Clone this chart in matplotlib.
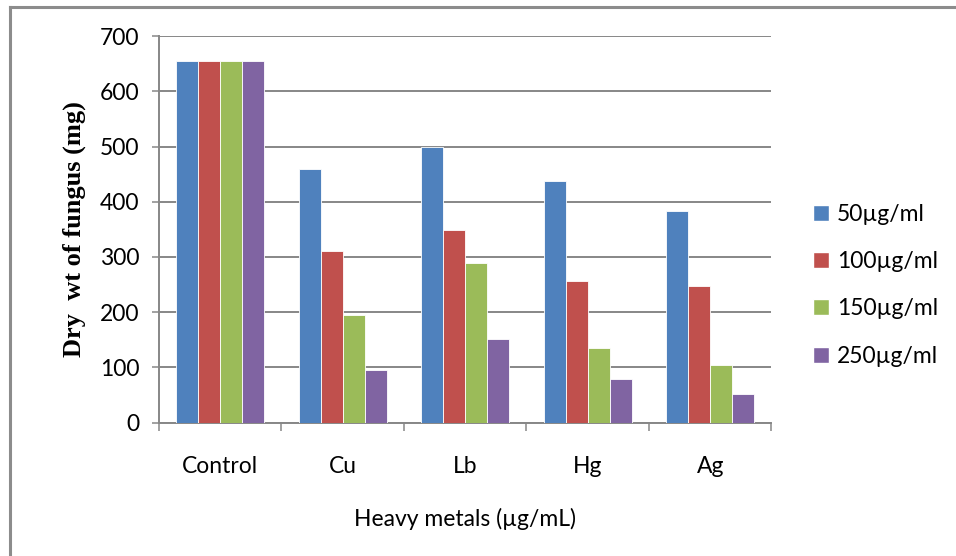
import matplotlib
matplotlib.use("Agg")
import matplotlib.pyplot as plt
import numpy as np
from matplotlib.lines import Line2D
from matplotlib.patches import Patch

# ---------------------------
# Data
# ---------------------------
metals = ["Control", "Cu", "Lb", "Hg", "Ag"]
doses = ["50µg/ml", "100µg/ml", "150µg/ml", "250µg/ml"]
dose_50 = [654, 459, 499, 437, 384]
dose_100 = [654, 311, 349, 256, 248]
dose_150 = [654, 195, 290, 136, 105]
dose_250 = [654, 96, 152, 80, 52]
colors = ["#4F81BD", "#C0504D", "#9BBB59", "#8064A2"]
y_ticks = [0, 100, 200, 300, 400, 500, 600, 700]

series = [dose_50, dose_100, dose_150, dose_250]

sans = ["Lato", "Open Sans", "DejaVu Sans"]
grid_grey = "#878787"

fig = plt.figure(figsize=(9.56, 5.56), dpi=100)
ax = fig.add_axes([0.1663, 0.2397, 0.6407, 0.6955])

# ---------------------------
# Bars
# ---------------------------
x = np.arange(len(metals))
bar_w = 0.18
for i, (vals, c) in enumerate(zip(series, colors)):
    offs = (i - 1.5) * bar_w
    ax.bar(x + offs, vals, width=bar_w, color=c, edgecolor="white",
           linewidth=0.6, label=doses[i], zorder=3)

ax.set_xlim(-0.5, len(metals) - 0.5)
ax.set_ylim(0, 700)
ax.set_yticks(y_ticks)
ax.set_yticklabels([str(v) for v in y_ticks], fontfamily=sans, fontsize=16.5)

# category labels on major ticks, boundary marks on minor ticks
ax.set_xticks(x)
ax.set_xticklabels(metals, fontfamily=sans, fontsize=16.5)
ax.set_xticks(np.arange(-0.5, len(metals)), minor=True)
ax.tick_params(axis="x", which="major", length=0, pad=24)
ax.tick_params(axis="x", which="minor", length=6, width=1.1, color=grid_grey)
ax.tick_params(axis="y", length=5, width=1.1, color=grid_grey, pad=9)

ax.yaxis.grid(True, color=grid_grey, linewidth=1.4, zorder=0)
ax.set_axisbelow(True)
for side in ["top", "right"]:
    ax.spines[side].set_visible(False)
for side in ["left", "bottom"]:
    ax.spines[side].set_color(grid_grey)
    ax.spines[side].set_linewidth(1.4)

ax.set_xlabel("Heavy metals (µg/mL)", fontfamily=sans, fontsize=16.5, labelpad=22)
ax.set_ylabel("Dry  wt of fungus (mg)", fontfamily="Liberation Serif",
              fontweight="bold", fontsize=19, labelpad=10)

# ---------------------------
# Legend
# ---------------------------
handles = [Patch(facecolor=c, edgecolor="white") for c in colors]
fig.legend(handles, doses, loc="center left", bbox_to_anchor=(0.829, 0.487),
           frameon=False, prop={"family": sans, "size": 16.5},
           handlelength=0.7, handleheight=0.7, handletextpad=0.35,
           labelspacing=1.15)

# outer chart frame
fig.add_artist(Line2D([0.0105, 0.0105], [0.0, 0.988], transform=fig.transFigure,
                      color="#8c8c8c", linewidth=2.2))
fig.add_artist(Line2D([0.0105, 1.0], [0.988, 0.988], transform=fig.transFigure,
                      color="#8c8c8c", linewidth=2.2))

fig.savefig("out.png", dpi=100)
